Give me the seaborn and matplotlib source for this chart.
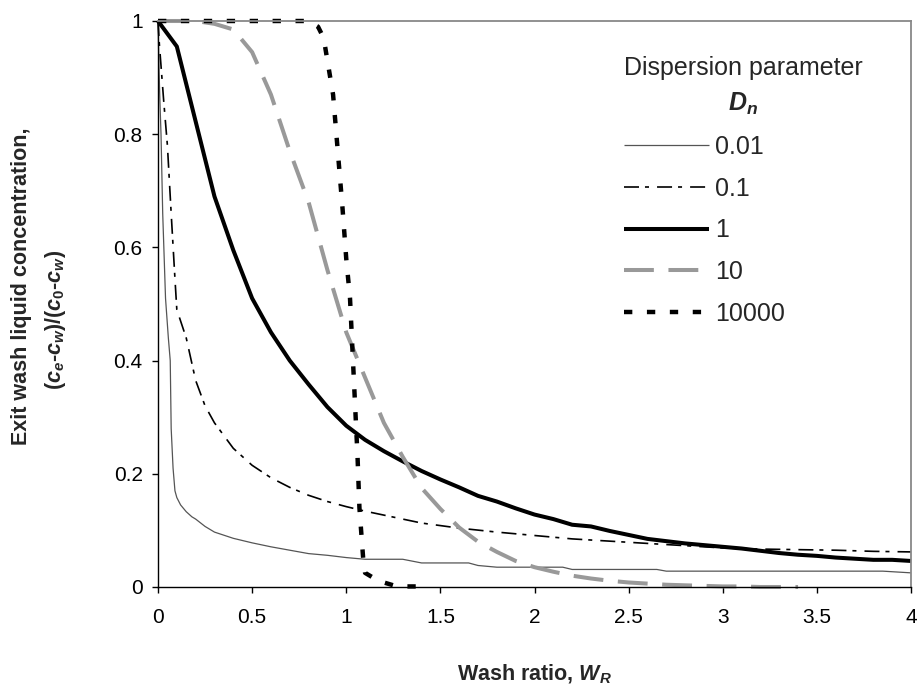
import matplotlib
matplotlib.use("Agg")
import matplotlib.pyplot as plt
import seaborn as sns

# ---------------- data ----------------
series_labels = ["0.01", "0.1", "1", "10", "10000"]

x_d001 = [0, 0.005, 0.01, 0.016, 0.025, 0.04, 0.055, 0.065, 0.07, 0.08, 0.09, 0.1, 0.12,
          0.15, 0.18, 0.2, 0.25, 0.3, 0.4, 0.5, 0.6, 0.7, 0.8, 0.9, 1.0, 1.1, 1.3, 1.4,
          1.65, 1.7, 1.8, 2.15, 2.2, 2.65, 2.7, 3.85, 4.0]
y_d001 = [1, 0.92, 0.86, 0.80, 0.66, 0.51, 0.44, 0.40, 0.28, 0.21, 0.17, 0.158, 0.145,
          0.133, 0.124, 0.12, 0.107, 0.097, 0.086, 0.078, 0.071, 0.065, 0.059, 0.056, 0.052,
          0.049, 0.049, 0.0425, 0.0425, 0.038, 0.035, 0.035, 0.031, 0.031, 0.028, 0.028, 0.025]

x_d01 = [0, 0.007, 0.03, 0.05, 0.07, 0.09, 0.1, 0.12, 0.15, 0.2, 0.25, 0.3, 0.4, 0.5, 0.6,
         0.7, 0.8, 0.9, 1.0, 1.1, 1.2, 1.4, 1.6, 1.8, 2.0, 2.2, 2.4, 2.6, 2.8, 3.0, 3.2,
         3.4, 3.6, 3.8, 4.0]
y_d01 = [1, 0.96, 0.86, 0.78, 0.66, 0.545, 0.49, 0.47, 0.44, 0.365, 0.32, 0.29, 0.245,
         0.215, 0.193, 0.176, 0.162, 0.151, 0.142, 0.134, 0.127, 0.113, 0.104, 0.097, 0.091,
         0.085, 0.081, 0.077, 0.073, 0.069, 0.067, 0.066, 0.065, 0.063, 0.062]

x_d1 = [0, 0.1, 0.3, 0.4, 0.5, 0.6, 0.7, 0.8, 0.9, 1.0, 1.1, 1.2, 1.3, 1.4, 1.5, 1.6, 1.7,
        1.8, 1.9, 2.0, 2.1, 2.2, 2.3, 2.4, 2.5, 2.6, 2.7, 2.8, 2.9, 3.0, 3.1, 3.2, 3.3, 3.4,
        3.5, 3.6, 3.7, 3.8, 3.9, 4.0]
y_d1 = [1, 0.955, 0.69, 0.595, 0.51, 0.45, 0.40, 0.358, 0.318, 0.285, 0.26, 0.24, 0.222,
        0.205, 0.19, 0.176, 0.161, 0.151, 0.139, 0.128, 0.12, 0.11, 0.107, 0.099, 0.092,
        0.085, 0.081, 0.077, 0.074, 0.071, 0.068, 0.064, 0.060, 0.057, 0.055, 0.052, 0.050,
        0.048, 0.048, 0.046]

x_d10 = [0, 0.1, 0.2, 0.3, 0.4, 0.5, 0.6, 0.7, 0.8, 0.9, 1.0, 1.1, 1.2, 1.3, 1.4, 1.5, 1.6,
         1.7, 1.8, 1.9, 2.0, 2.1, 2.2, 2.3, 2.4, 2.5, 2.6, 2.7, 2.8, 2.9, 3.0, 3.1, 3.2, 3.3,
         3.4]
y_d10 = [1, 1, 1, 0.995, 0.985, 0.945, 0.87, 0.77, 0.68, 0.56, 0.45, 0.37, 0.29, 0.23,
         0.175, 0.138, 0.105, 0.08, 0.062, 0.046, 0.035, 0.027, 0.02, 0.015, 0.011, 0.008,
         0.006, 0.004, 0.003, 0.002, 0.001, 0.001, 0.0, 0.0, 0.0]

x_d10000 = [0, 0.8, 0.85, 0.88, 0.9, 0.93, 0.95, 0.98, 1.0, 1.02, 1.04, 1.06, 1.07, 1.09,
            1.1, 1.15, 1.2, 1.25, 1.3, 1.44]
y_d10000 = [1, 1, 0.99, 0.97, 0.93, 0.87, 0.79, 0.67, 0.58, 0.51, 0.37, 0.23, 0.14, 0.05,
            0.025, 0.015, 0.008, 0.003, 0.001, 0.001]

x_ticks = [0, 0.5, 1, 1.5, 2, 2.5, 3, 3.5, 4]
x_tick_labels = ["0", "0.5", "1", "1.5", "2", "2.5", "3", "3.5", "4"]
y_ticks = [0, 0.2, 0.4, 0.6, 0.8, 1]
y_tick_labels = ["0", "0.2", "0.4", "0.6", "0.8", "1"]

# ---------------- style ----------------
sns.set_style("ticks")
plt.rcParams["font.family"] = ["Liberation Sans", "DejaVu Sans"]
plt.rcParams["mathtext.fontset"] = "custom"
plt.rcParams["mathtext.it"] = "Liberation Sans:italic:bold"
plt.rcParams["mathtext.rm"] = "Liberation Sans:bold"
plt.rcParams["mathtext.bf"] = "Liberation Sans:bold"
plt.rcParams["lines.scale_dashes"] = False

styles = [
    dict(color="#555555", linewidth=0.9, linestyle="-"),
    dict(color="black", linewidth=1.2, linestyle=(0, (10.8, 4.3, 2.9, 5.8))),
    dict(color="black", linewidth=2.9, linestyle="-"),
    dict(color="#999999", linewidth=2.9, linestyle=(0, (21.5, 10.5))),
    dict(color="black", linewidth=3.2, linestyle=(0, (6.0, 10.5))),
]
series = [(x_d001, y_d001), (x_d01, y_d01), (x_d1, y_d1), (x_d10, y_d10), (x_d10000, y_d10000)]

W, H = 918, 691
fig = plt.figure(figsize=(W / 100, H / 100), dpi=100)
ax = fig.add_axes([158 / W, 1 - 587 / H, (911 - 158) / W, (587 - 21) / H])

for (xs, ys), lab, st in zip(series, series_labels, styles):
    sns.lineplot(x=xs, y=ys, ax=ax, label=lab, sort=False, estimator=None,
                 clip_on=False, solid_capstyle="butt", dash_capstyle="butt", **st)

ax.set_xlim(0, 4)
ax.set_ylim(0, 1)
ax.set_xticks(x_ticks)
ax.set_xticklabels(x_tick_labels)
ax.set_yticks(y_ticks)
ax.set_yticklabels(y_tick_labels)
ax.tick_params(axis="both", direction="out", length=4, width=1, color="black",
               labelsize=15, labelcolor="black")
ax.tick_params(axis="x", pad=11)
ax.tick_params(axis="y", pad=7)

for s in ["left", "bottom"]:
    ax.spines[s].set_color("black")
    ax.spines[s].set_linewidth(1.0)
for s in ["top", "right"]:
    ax.spines[s].set_visible(True)
    ax.spines[s].set_color("#888888")
    ax.spines[s].set_linewidth(1.3)

ax.set_xlabel("Wash ratio, $W_R$", fontsize=15.5, fontweight="bold")
ax.xaxis.set_label_coords(0.5, -0.134)
ax.set_ylabel("")

fig.text(22 / W, 1 - 286 / H, "Exit wash liquid concentration,", rotation=90,
         ha="center", va="center", fontsize=15.5, fontweight="bold")
fig.text(55 / W, 1 - 320 / H, "($c_e$-$c_w$)/($c_0$-$c_w$)", rotation=90,
         ha="center", va="center", fontsize=15.5, fontweight="bold")

handles, labels = ax.get_legend_handles_labels()
leg = ax.legend(handles, labels, title="Dispersion parameter\n$D_n$",
                loc="upper left", bbox_to_anchor=(624 / W, 1 - 56 / H),
                bbox_transform=fig.transFigure, frameon=False, fontsize=18,
                title_fontsize=18, handlelength=3.4, handletextpad=0.25,
                labelspacing=0.71, borderpad=0, borderaxespad=0, alignment="left")
leg.get_title().set_multialignment("center")
leg.get_title().set_linespacing(1.55)

fig.savefig("out.png", dpi=100)
